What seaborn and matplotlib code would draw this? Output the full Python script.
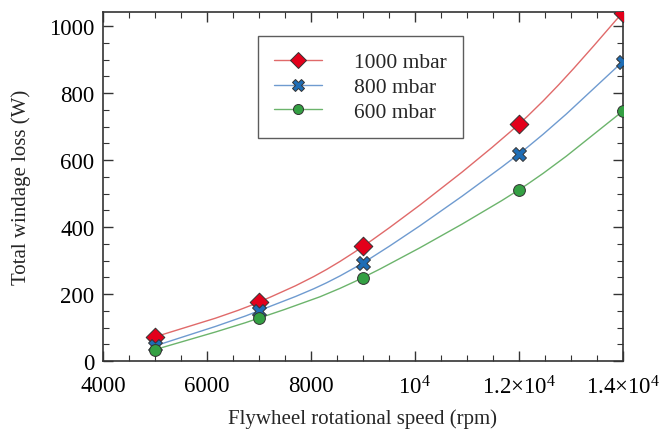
import numpy as np
import seaborn as sns
import matplotlib.pyplot as plt
from matplotlib.path import Path
from matplotlib.patches import PathPatch
from matplotlib.lines import Line2D
from matplotlib.ticker import FixedLocator, FixedFormatter, MultipleLocator

# data
speed_rpm = [5000, 7000, 9000, 12000, 14000]
loss_1000 = [72, 176, 342, 707, 1040]
loss_800 = [45, 150, 293, 618, 894]
loss_600 = [34, 128, 249, 511, 746]
series_names = ["1000 mbar", "800 mbar", "600 mbar"]

x_ticks = [4000, 6000, 8000, 10000, 12000, 14000]
x_tick_labels = ["4000", "6000", "8000", r"$10^4$", r"$1.2{\times}10^4$", r"$1.4{\times}10^4$"]
y_ticks = [0, 200, 400, 600, 800, 1000]

sns.set_style("ticks")
plt.rcParams["font.family"] = ["Liberation Serif", "DejaVu Serif"]
plt.rcParams["mathtext.fontset"] = "custom"
plt.rcParams["mathtext.rm"] = "Liberation Serif"
plt.rcParams["mathtext.it"] = "Liberation Serif"

styles = [
    dict(line="#e06a6a", face="#e3001b", marker="D", size=9.5),
    dict(line="#6f9bd0", face="#1f6db5", marker="X", size=10),
    dict(line="#6cb46c", face="#34a043", marker="o", size=8.5),
]
all_loss = [loss_1000, loss_800, loss_600]


def smooth_path(xs, ys):
    # catmull-rom style bezier through the measured points
    pts = np.column_stack([xs, ys]).astype(float)
    verts = [pts[0]]
    codes = [Path.MOVETO]
    n = len(pts)
    for i in range(n - 1):
        p0 = pts[max(i - 1, 0)]
        p1 = pts[i]
        p2 = pts[i + 1]
        p3 = pts[min(i + 2, n - 1)]
        c1 = p1 + (p2 - p0) / 6.0
        c2 = p2 - (p3 - p1) / 6.0
        verts += [c1, c2, p2]
        codes += [Path.CURVE4] * 3
    return Path(verts, codes)


fig = plt.figure(figsize=(6.64, 4.31), dpi=100)
ax = fig.add_axes([0.155, 0.160, 0.783, 0.810])

handles = []
for name, loss, st in zip(series_names, all_loss, styles):
    ax.add_patch(PathPatch(smooth_path(speed_rpm, loss), fill=False,
                           edgecolor=st["line"], lw=1.0, zorder=2))
    sns.scatterplot(x=speed_rpm, y=loss, ax=ax, marker=st["marker"],
                    s=st["size"] ** 2, color=st["face"], edgecolor="#333333",
                    linewidth=0.7, zorder=3, legend=False)
    handles.append(Line2D([], [], color=st["line"], lw=1.0, marker=st["marker"],
                          markersize=st["size"] * 0.85, markerfacecolor=st["face"],
                          markeredgecolor="#333333", markeredgewidth=0.7))

ax.set_xlim(4000, 14000)
ax.set_ylim(0, 1042)
ax.xaxis.set_major_locator(FixedLocator(x_ticks))
ax.xaxis.set_major_formatter(FixedFormatter(x_tick_labels))
ax.xaxis.set_minor_locator(MultipleLocator(500))
ax.yaxis.set_major_locator(FixedLocator(y_ticks))
ax.yaxis.set_minor_locator(MultipleLocator(50))

ax.tick_params(which="both", direction="in", top=True, right=True,
               labelsize=16.5, colors="#333333", labelcolor="black")
ax.tick_params(which="major", length=7, width=1.0)
ax.tick_params(which="minor", length=4, width=0.8)
ax.tick_params(axis="x", which="major", pad=10)
ax.tick_params(axis="y", which="major", pad=6)
for sp in ax.spines.values():
    sp.set_visible(True)
    sp.set_color("#333333")
    sp.set_linewidth(1.2)

ax.set_xlabel("Flywheel rotational speed (rpm)", fontsize=15, labelpad=7)
ax.set_ylabel("Total windage loss (W)", fontsize=15, labelpad=13)

leg = ax.legend(handles, series_names, loc="upper left",
                bbox_to_anchor=(0.389, 0.914), bbox_transform=fig.transFigure,
                fontsize=15.5, frameon=True, fancybox=False, shadow=False,
                borderpad=0.75, labelspacing=0.22, handlelength=2.2,
                handletextpad=1.5, borderaxespad=0)
leg.get_frame().set_edgecolor("#333333")
leg.get_frame().set_linewidth(1.0)

fig.savefig("out.png", dpi=100)
